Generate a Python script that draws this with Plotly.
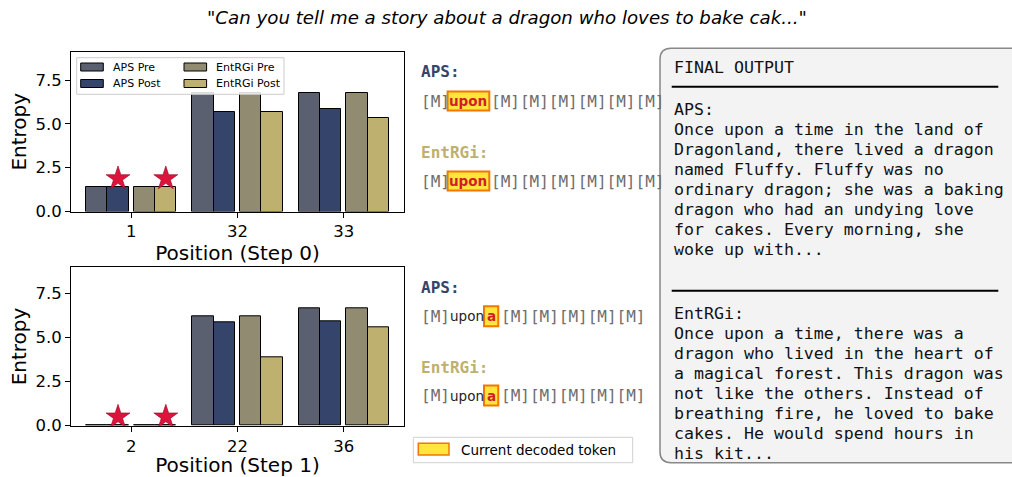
import plotly.graph_objects as go

W, H = 1012, 477

# ---- data -------------------------------------------------------------
prompt = '"Can you tell me a story about a dragon who loves to bake cak..."'
series = ["APS Pre", "APS Post", "EntRGi Pre", "EntRGi Post"]
colors = ["#5a6070", "#34446b", "#918b72", "#beb06f"]

step0_positions = ["1", "32", "33"]
step0_aps_pre = [1.38, 6.74, 6.74]
step0_aps_post = [1.38, 5.65, 5.82]
step0_ent_pre = [1.38, 6.74, 6.74]
step0_ent_post = [1.38, 5.65, 5.32]

step1_positions = ["2", "22", "36"]
step1_aps_pre = [0.0, 6.21, 6.66]
step1_aps_post = [0.0, 5.87, 5.92]
step1_ent_pre = [0.0, 6.21, 6.66]
step1_ent_post = [0.0, 3.91, 5.58]

# decoded sequence shown after each step: prefix, current token, remaining masks
step0_prefix = "[M]"
step0_current = "upon"
step0_masks = 6
step1_prefix = ["[M]", "upon"]
step1_current = "a"
step1_masks = 5

aps_output = [
    "APS:",
    "Once upon a time in the land of",
    "Dragonland, there lived a dragon",
    "named Fluffy. Fluffy was no",
    "ordinary dragon; she was a baking",
    "dragon who had an undying love",
    "for cakes. Every morning, she",
    "woke up with...",
]
ent_output = [
    "EntRGi:",
    "Once upon a time, there was a",
    "dragon who lived in the heart of",
    "a magical forest. This dragon was",
    "not like the others. Instead of",
    "breathing fire, he loved to bake",
    "cakes. He would spend hours in",
    "his kit...",
]


def X(p):
    return p / W


def Y(p):
    return 1 - p / H


offsets = [-0.325, -0.125, 0.125, 0.325]
SANS = "DejaVu Sans"
MONO = "DejaVu Sans Mono"

fig = go.Figure()
shapes = []
annotations = []

panels = [
    ("x", "y", step0_positions, [step0_aps_pre, step0_aps_post, step0_ent_pre, step0_ent_post]),
    ("x2", "y2", step1_positions, [step1_aps_pre, step1_aps_post, step1_ent_pre, step1_ent_post]),
]

for xa, ya, cats, vals in panels:
    for name, col, off, v in zip(series, colors, offsets, vals):
        fig.add_trace(go.Bar(
            x=[i + off for i in range(len(cats))], y=v, width=0.2,
            marker=dict(color=col, line=dict(color="black", width=1)),
            name=name, showlegend=False, xaxis=xa, yaxis=ya,
        ))
    # stars mark the decoded position (first group) for the Post bars
    fig.add_trace(go.Scatter(
        x=[offsets[1], offsets[3]], y=[vals[1][0] + 0.5, vals[3][0] + 0.5],
        mode="markers", showlegend=False, xaxis=xa, yaxis=ya,
        marker=dict(symbol="star", size=18, color="#dc143c",
                    line=dict(color="#a00020", width=0.6)),
    ))

axis_common = dict(
    showline=True, linecolor="black", linewidth=1, mirror=True,
    ticks="outside", ticklen=5, tickcolor="black", showgrid=False,
    zeroline=False, tickfont=dict(family=SANS, size=16.5, color="black"),
    automargin=False,
)
title_font = dict(family=SANS, size=20, color="black")
ymax0 = max(max(v) for v in panels[0][3]) * 1.35
ymax1 = max(max(v) for v in panels[1][3]) * 1.35

fig.update_layout(
    width=W, height=H, margin=dict(l=0, r=0, t=0, b=0),
    paper_bgcolor="white", plot_bgcolor="white", bargap=0,
    xaxis=dict(axis_common, domain=[X(71), X(404)], anchor="y",
               range=[-0.5675, 2.5675], tickvals=[0, 1, 2], ticktext=step0_positions,
               title=dict(text="Position (Step 0)", font=title_font, standoff=1)),
    yaxis=dict(axis_common, domain=[Y(211.5), Y(52)], anchor="x",
               range=[0, ymax0], tickvals=[0, 2.5, 5, 7.5], tickformat=".1f",
               title=dict(text="Entropy", font=title_font, standoff=3)),
    xaxis2=dict(axis_common, domain=[X(71), X(404)], anchor="y2",
                range=[-0.5675, 2.5675], tickvals=[0, 1, 2], ticktext=step1_positions,
                title=dict(text="Position (Step 1)", font=title_font, standoff=1)),
    yaxis2=dict(axis_common, domain=[Y(425.7), Y(267.3)], anchor="x2",
                range=[0, ymax1], tickvals=[0, 2.5, 5, 7.5], tickformat=".1f",
                title=dict(text="Entropy", font=title_font, standoff=3)),
)

# ---- bar legend (top chart) --------------------------------------------
shapes.append(dict(type="rect", xref="paper", yref="paper", layer="above",
                   x0=X(76.7), x1=X(284), y0=Y(94.3), y1=Y(57.7),
                   fillcolor="rgba(255,255,255,0.85)", line=dict(color="#cccccc", width=1)))
leg_pos = [(80.7, 67), (80.7, 83.5), (184, 67), (184, 83.5)]
for name, col, (lx, ly) in zip(series, colors, leg_pos):
    shapes.append(dict(type="rect", xref="paper", yref="paper", layer="above",
                       x0=X(lx), x1=X(lx + 22.6), y0=Y(ly + 4), y1=Y(ly - 4),
                       fillcolor=col, line=dict(color="black", width=1)))
    annotations.append(dict(text=name, x=X(lx + 31), y=Y(ly), xref="paper", yref="paper",
                            xanchor="left", yanchor="middle", showarrow=False, borderpad=0,
                            font=dict(family=SANS, size=11, color="black")))


# ---- token rows ----------------------------------------------------------
def label(text, x, y, family, size, color, anchor="left"):
    annotations.append(dict(text=text, x=X(x), y=Y(y), xref="paper", yref="paper",
                            xanchor=anchor, yanchor="middle", showarrow=False, borderpad=0,
                            font=dict(family=family, size=size, color=color)))


def highlight(tok, x0, x1, y, half):
    shapes.append(dict(type="rect", xref="paper", yref="paper", layer="above",
                       x0=X(x0), x1=X(x1), y0=Y(y + half), y1=Y(y - half),
                       fillcolor="#ffe53d", line=dict(color="#f07800", width=2)))
    label("<b>%s</b>" % tok, (x0 + x1) / 2, y, SANS, 13.5, "#d01e28", "center")


for name, col, ly, ry in [("APS:", colors[1], 72, 101), ("EntRGi:", colors[3], 152, 181)]:
    label("<b>%s</b>" % name, 420, ly, MONO, 16, col)
    label(step0_prefix, 419.7, ry, MONO, 16, "#6e6e6e")
    highlight(step0_current, 447.6, 489.3, ry, 9.5)
    label("[M]" * step0_masks, 489.7, ry, MONO, 16, "#6e6e6e")

for name, col, ly, ry in [("APS:", colors[1], 287.5, 316.3), ("EntRGi:", colors[3], 367.5, 395.5)]:
    label("<b>%s</b>" % name, 420, ly, MONO, 16, col)
    label(step1_prefix[0], 419.7, ry, MONO, 16, "#6e6e6e")
    label(step1_prefix[1], 449.2, ry, SANS, 13.5, "#222222")
    highlight(step1_current, 484, 498.3, ry, 10)
    label("[M]" * step1_masks, 500.3, ry, MONO, 16, "#6e6e6e")

# "Current decoded token" key
shapes.append(dict(type="rect", xref="paper", yref="paper", layer="above",
                   x0=X(413.3), x1=X(632.7), y0=Y(462.7), y1=Y(437.3),
                   fillcolor="white", line=dict(color="#d0d0d0", width=1)))
shapes.append(dict(type="rect", xref="paper", yref="paper", layer="above",
                   x0=X(418.3), x1=X(449), y0=Y(455), y1=Y(443.3),
                   fillcolor="#ffe53d", line=dict(color="#f07800", width=1.5)))
label("Current decoded token", 460, 449.5, SANS, 13.5, "black")

# ---- final output panel --------------------------------------------------
x0, x1, y0, y1, r = 660, 1030, 48.3, 462.7, 11
path = ("M %f,%f L %f,%f Q %f,%f %f,%f L %f,%f Q %f,%f %f,%f L %f,%f Z" % (
    X(x1), Y(y0), X(x0 + r), Y(y0), X(x0), Y(y0), X(x0), Y(y0 + r),
    X(x0), Y(y1 - r), X(x0), Y(y1), X(x0 + r), Y(y1), X(x1), Y(y1)))
shapes.append(dict(type="path", path=path, xref="paper", yref="paper", layer="above",
                   fillcolor="#f3f3f3", line=dict(color="#888888", width=1.5)))
for ly in [86.7, 290.7]:
    shapes.append(dict(type="line", xref="paper", yref="paper", layer="above",
                       x0=X(671.7), x1=X(998.3), y0=Y(ly), y1=Y(ly),
                       line=dict(color="black", width=2)))

label("FINAL OUTPUT", 673, 67, MONO, 16.6, "#111111")
for block, ystart in [(aps_output, 109), (ent_output, 313.3)]:
    for k, line in enumerate(block):
        label(line, 673, ystart + k * 20.05, MONO, 16.6, "#111111")

# ---- title ---------------------------------------------------------------
annotations.append(dict(text=prompt, x=X(507), y=Y(18), xref="paper", yref="paper",
                        xanchor="center", yanchor="middle", showarrow=False,
                        font=dict(family=SANS, size=18.2, color="black", style="italic")))

fig.update_layout(shapes=shapes, annotations=annotations)
fig.write_html("out.html", config={"displayModeBar": False},
               post_script="document.body.style.margin='0';")
